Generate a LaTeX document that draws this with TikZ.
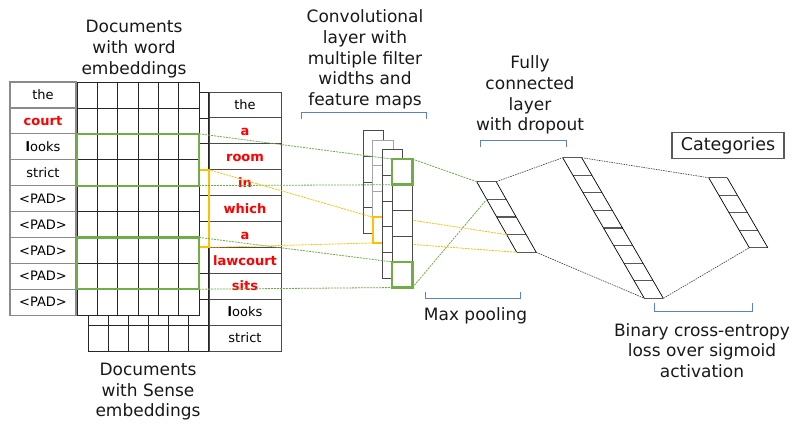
\documentclass[tikz,border=0pt]{standalone}
\usepackage{fontspec}
\setmainfont{DejaVu Sans}
\usetikzlibrary{calc}

\definecolor{hlred}{HTML}{FF0000}
\definecolor{filtgreen}{HTML}{70AD47}
\definecolor{filtorange}{HTML}{FFC000}
\definecolor{bracketblue}{HTML}{5A82CC}
\definecolor{cellgray}{HTML}{8A8A8A}
\definecolor{linedark}{HTML}{4A4A4A}

% highlighted (sense-tagged) word
\newcommand{\hw}[1]{\textcolor{hlred}{\bfseries #1}}
\newcommand{\lk}{\textbf{l}ooks}

% slanted stack of cells: name, top-left x, y, width, cell height, cells, slant
\newcommand{\slantstack}[7]{%
  \foreach \k in {0,...,#6}{%
    \coordinate (#1-\k-l) at ({#2+#7*#5*\k},{#3+#5*\k});
    \coordinate (#1-\k-r) at ({#2+#7*#5*\k+#4},{#3+#5*\k});
  }
  \foreach \k in {0,...,#6}{\draw[stackrung] (#1-\k-l) -- (#1-\k-r);}
  \draw[stackside] (#1-0-l) -- (#1-#6-l) (#1-0-r) -- (#1-#6-r);
}

\begin{document}
\begin{tikzpicture}[x=1pt,y=-1pt,
  blocktext/.style={font=\fontsize{17}{20.8}\selectfont, align=center, inner sep=0pt, text=black!90},
  wordcell/.style={draw=cellgray, line width=1.2pt, fill=white, minimum width=66pt, minimum height=25.9pt,
    inner sep=0pt, outer sep=0pt, font=\fontsize{13}{14}\selectfont, text height=9.4pt, text depth=0pt},
  sensecell/.style={wordcell, draw=linedark, line width=1pt, minimum width=72pt},
  gridline/.style={draw=black!85, line width=0.8pt},
  convcell/.style={draw=linedark, fill=white, line width=0.9pt, minimum width=20.5pt, minimum height=25.7pt,
    inner sep=0pt, outer sep=0pt},
  greenbox/.style={draw=filtgreen, line width=2.2pt, inner sep=0pt, outer sep=0pt},
  orangebox/.style={draw=filtorange, line width=2pt, inner sep=0pt, outer sep=0pt},
  greenlink/.style={draw=filtgreen, line width=0.8pt, dash pattern=on 2pt off 1pt},
  orangelink/.style={draw=filtorange, line width=0.8pt, dash pattern=on 2pt off 1pt},
  blacklink/.style={draw=black!80, line width=0.6pt, dash pattern=on 1.5pt off 1pt},
  stackrung/.style={draw=black!65, line width=1.1pt},
  stackside/.style={draw=black, line width=0.7pt},
  bracket/.style={draw=bracketblue, line width=1pt},
]
\fill[white] (0,0) rectangle (795,424);
\useasboundingbox (0,0) rectangle (795,424);

% ---------- sense-annotated document (back layer) ----------
\foreach \t [count=\i] in {the,\hw{a},\hw{room},\hw{in},\hw{which},\hw{a},\hw{lawcourt},\hw{sits},\lk,strict}
  \node[sensecell] (s\i) at (245,{92+25.9*(\i-0.5)}) {\t};

\filldraw[gridline, fill=white] (88.3,92) rectangle (208.7,351);
\foreach \i in {1,...,5} \draw[gridline] ({88.3+20.07*\i},92) -- ++(0,259);
\foreach \j in {1,...,9} \draw[gridline] (88.3,{92+25.9*\j}) -- (208.7,{92+25.9*\j});

% filter of width 3 over the sense embeddings
\node[orangebox, minimum width=120.4pt, minimum height=77.7pt] (fo) at (148.5,208.55) {};

% ---------- word document (front layer) ----------
\filldraw[gridline, fill=white] (77,82) rectangle (199,315.1);
\foreach \i in {1,...,5} \draw[gridline] ({77+20.33*\i},82) -- ++(0,233.1);
\foreach \j in {1,...,8} \draw[gridline] (77,{82+25.9*\j}) -- (199,{82+25.9*\j});

\foreach \t [count=\i] in {the,\hw{court},\lk,strict,<PAD>,<PAD>,<PAD>,<PAD>,<PAD>}
  \node[wordcell] (w\i) at (43,{82+25.9*(\i-0.5)}) {\t};

% filters of width 2 over the word embeddings
\node[greenbox, minimum width=122pt, minimum height=51.8pt] (fa) at (138,159.7) {};
\node[greenbox, minimum width=122pt, minimum height=51.8pt] (fb) at (138,263.3) {};

% ---------- pooling and dense layers ----------
\slantstack{mp}{476.7}{181.7}{19.5}{17.65}{4}{0.5666}
\slantstack{fc}{562.7}{157.7}{19}{17.575}{8}{0.5804}
\slantstack{cat}{708.7}{177.7}{18.5}{17.5}{4}{0.58}

% ---------- feature maps ----------
\foreach \k in {1,...,4} \node[convcell] (cva\k) at (373.55,{130.7+25.7*(\k-0.5)}) {};
\foreach \k in {1,...,4} \node[convcell, draw=gray!70] (cvb\k) at (383.0,{140.15+25.7*(\k-0.5)}) {};
\node[orangebox, minimum width=20.5pt, minimum height=25.7pt] (ob) at (cvb4) {};
\draw[orangelink] (ob.north east) -- (mp-3-l);
\draw[orangelink] (ob.south east) -- (mp-4-l);
\foreach \k in {1,...,5} \node[convcell] (cvc\k) at (392.5,{149.6+25.7*(\k-0.5)}) {};
\foreach \k in {1,...,5} \node[convcell] (cvd\k) at (402.2,{159.05+25.7*(\k-0.5)}) {};
\node[greenbox, line width=2.6pt, minimum width=20.5pt, minimum height=25.7pt] (gt) at (cvd1) {};
\node[greenbox, line width=2.6pt, minimum width=20.5pt, minimum height=25.7pt] (gb) at (cvd5) {};

% ---------- connectors ----------
\draw[greenlink] (fa.north east) -- (gt.north west);
\draw[greenlink] (fa.south east) -- (gt.south west);
\draw[greenlink] (fb.north east) -- (gb.north west);
\draw[greenlink] (fb.south east) -- (gb.south west);
\draw[orangelink] (fo.north east) -- (ob.north west);
\draw[orangelink] (fo.south east) -- (ob.south west);
\draw[greenlink] (gt.north east) -- (mp-0-l);
\draw[greenlink] (gb.south east) -- (mp-1-l);

\draw[blacklink] (mp-0-r) -- (fc-0-l);
\draw[blacklink] (mp-4-r) -- (fc-8-l);
\draw[blacklink] (fc-0-r) -- (cat-0-l);
\draw[blacklink] (fc-8-r) -- (cat-4-l);

% ---------- brackets ----------
\draw[bracket] (301,119) -- (301,112) -- (426,112) -- (426,119);
\draw[bracket] (480.7,146.7) -- (480.7,140) -- (566.7,140) -- (566.7,146.7);
\draw[bracket] (425,291.7) -- (425,298.3) -- (520.7,298.3) -- (520.7,291.7);
\draw[bracket] (654.3,302.7) -- (654.3,311.7) -- (752.3,311.7) -- (752.3,302.7);

% ---------- captions ----------
\node[blocktext, anchor=north] (tword) at (134,20.3) {Documents\\with word\\embeddings};
\node[blocktext, anchor=north] (tconv) at (365,9.3) {Convolutional\\layer with\\multiple filter\\widths and\\feature maps};
\node[blocktext, anchor=north] (tfc) at (530,55.4) {Fully\\connected\\layer\\with dropout};
\node[blocktext, draw=gray!70!black, line width=1.2pt, minimum width=112pt, minimum height=25.6pt, font=\fontsize{17.5}{20.8}\selectfont] (tcat) at (728,145.5) {Categories};
\node[blocktext, anchor=base] (tpool) at (475.5,320.7) {Max pooling};
\node[blocktext, anchor=north] (tloss) at (702,323) {Binary cross-entropy\\loss over sigmoid\\activation};
\node[blocktext, anchor=north] (tsense) at (148,362.6) {Documents\\with Sense\\embeddings};
\end{tikzpicture}
\end{document}
